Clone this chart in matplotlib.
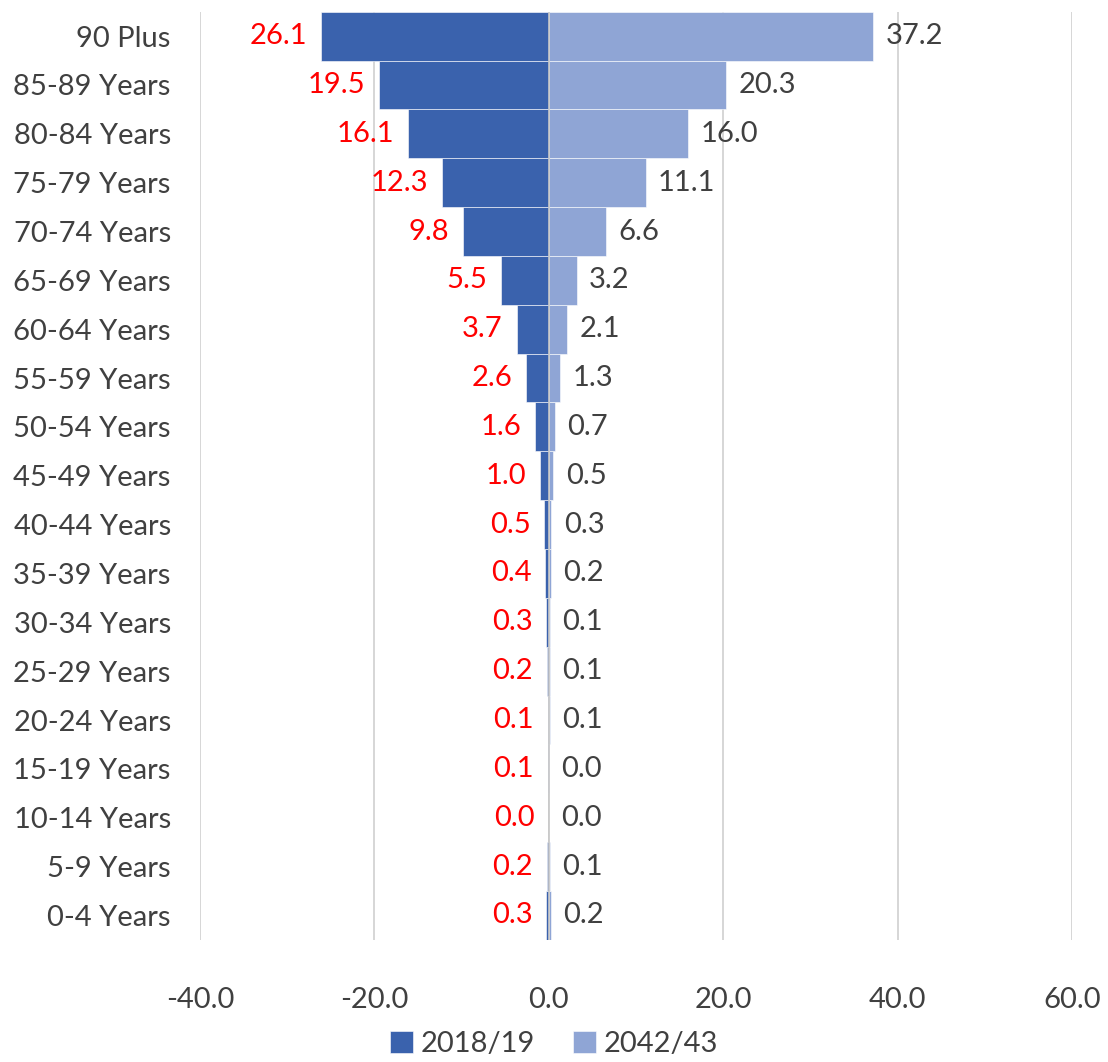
import numpy as np
import matplotlib.pyplot as plt

plt.rcParams['font.family'] = ['Lato', 'DejaVu Sans']

ages = ["0-4 Years", "5-9 Years", "10-14 Years", "15-19 Years", "20-24 Years",
        "25-29 Years", "30-34 Years", "35-39 Years", "40-44 Years", "45-49 Years",
        "50-54 Years", "55-59 Years", "60-64 Years", "65-69 Years", "70-74 Years",
        "75-79 Years", "80-84 Years", "85-89 Years", "90 Plus"]
y2018 = [0.3, 0.2, 0.0, 0.1, 0.1, 0.2, 0.3, 0.4, 0.5, 1.0,
         1.6, 2.6, 3.7, 5.5, 9.8, 12.3, 16.1, 19.5, 26.1]
y2042 = [0.2, 0.1, 0.0, 0.0, 0.1, 0.1, 0.1, 0.2, 0.3, 0.5,
         0.7, 1.3, 2.1, 3.2, 6.6, 11.1, 16.0, 20.3, 37.2]

c_dark = "#3A62AD"
c_light = "#8FA5D5"
txt = "#404040"
fs = 21

fig = plt.figure(figsize=(11.08, 10.62), dpi=100)
ax = fig.add_axes([0.1805, 0.115, 0.787, 0.874])

y = np.arange(len(ages))
left = -np.array(y2018)
ax.barh(y, left, height=1.0, color=c_dark, edgecolor="white", linewidth=0.4, label="2018/19", zorder=2)
ax.barh(y, y2042, height=1.0, color=c_light, edgecolor="white", linewidth=0.4, label="2042/43", zorder=2)

for i in range(len(ages)):
    ax.annotate(f"{y2018[i]:.1f}", (left[i], y[i]), xytext=(-10, 0), textcoords="offset points",
                ha="right", va="center", color="red", fontsize=fs)
    ax.annotate(f"{y2042[i]:.1f}", (y2042[i], y[i]), xytext=(9, 0), textcoords="offset points",
                ha="left", va="center", color=txt, fontsize=fs)

ax.set_xlim(-40, 60)
ax.set_ylim(-0.5, len(ages) - 0.5)
ax.set_xticks([-40, -20, 0, 20, 40, 60])
ax.set_xticklabels([f"{v:.1f}" for v in [-40, -20, 0, 20, 40, 60]])
ax.set_yticks(y)
ax.set_yticklabels(ages)
ax.tick_params(axis="both", length=0, labelsize=fs, labelcolor=txt)
ax.tick_params(axis="x", pad=34)
ax.tick_params(axis="y", pad=21)
ax.grid(axis="x", color="#D0D0D0", linewidth=1.2, zorder=0)
ax.axvline(0, color="#C8C8C8", linewidth=1.2, zorder=3)
for s in ax.spines.values():
    s.set_visible(False)

fig.legend(loc="lower center", bbox_to_anchor=(0.5, -0.02), ncol=2, frameon=False,
           fontsize=fs, handlelength=0.8, handleheight=0.8, handletextpad=0.25,
           columnspacing=1.3, labelcolor=txt)

fig.savefig("out.png", dpi=100)
